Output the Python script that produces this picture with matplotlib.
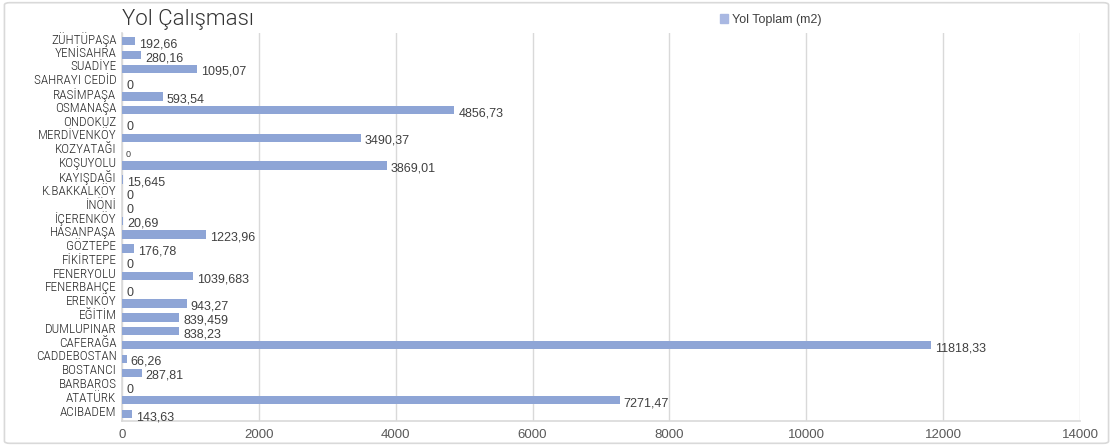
import matplotlib.pyplot as plt
from matplotlib.patches import FancyBboxPatch
import numpy as np

# Mahalle bazinda yol calismasi (ustten alta)
mahalleler = ['ZÜHTÜPAŞA', 'YENİSAHRA', 'SUADİYE', 'SAHRAYI CEDİD', 'RASİMPAŞA',
              'OSMANAŞA', 'ONDOKUZ', 'MERDİVENKÖY', 'KOZYATAĞI', 'KOŞUYOLU',
              'KAYIŞDAĞI', 'K.BAKKALKÖY', 'İNÖNİ', 'İÇERENKÖY', 'HASANPAŞA',
              'GÖZTEPE', 'FİKİRTEPE', 'FENERYOLU', 'FENERBAHÇE', 'ERENKÖY',
              'EĞİTİM', 'DUMLUPINAR', 'CAFERAĞA', 'CADDEBOSTAN', 'BOSTANCI',
              'BARBAROS', 'ATATÜRK', 'ACIBADEM']
yol_toplam = [192.66, 280.16, 1095.07, 0, 593.54,
              4856.73, 0, 3490.37, 0, 3869.01,
              15.645, 0, 0, 20.69, 1223.96,
              176.78, 0, 1039.683, 0, 943.27,
              839.459, 838.23, 11818.33, 66.26, 287.81,
              0, 7271.47, 143.63]
etiketler = ['192,66', '280,16', '1095,07', '0', '593,54',
             '4856,73', '0', '3490,37', '0', '3869,01',
             '15,645', '0', '0', '20,69', '1223,96',
             '176,78', '0', '1039,683', '0', '943,27',
             '839,459', '838,23', '11818,33', '66,26', '287,81',
             '0', '7271,47', '143,63']
xticks = [0, 2000, 4000, 6000, 8000, 10000, 12000, 14000]

barColor = '#8ea5d6'
gridColor = '#d9d9d9'
textColor = '#404040'

fig = plt.figure(figsize=(11.13, 4.46), dpi=100)
fig.patches.append(FancyBboxPatch((0.004, 0.006), 0.992, 0.988, boxstyle='round,pad=0,rounding_size=0.005',
                                  transform=fig.transFigure, facecolor='none',
                                  edgecolor='#d9d9d9', linewidth=1.2, zorder=-1))
ax = fig.add_axes([122/1113, 1 - 421/446, (1080 - 122)/1113, (421 - 33)/446])

y = np.arange(len(mahalleler))
ax.barh(y, yol_toplam, height=0.6, color=barColor, label='Yol Toplam (m2)', zorder=3)
ax.set_ylim(len(mahalleler) - 0.5, -0.6)
ax.set_xlim(0, 14000)

for ii, (val, lab) in enumerate(zip(yol_toplam, etiketler)):
    fs = 6.5 if mahalleler[ii] == 'KOZYATAĞI' else 9
    ax.text(val + 60, ii + 0.22, lab, va='center', ha='left', fontsize=fs,
            color=textColor, family='Liberation Sans', zorder=4)

# etiketler cubuklardan biraz yukarida duruyor
ax.set_yticks(y - 0.25)
ax.set_yticklabels(mahalleler, family=['Roboto Condensed', 'Liberation Sans'],
                   fontweight=300, fontsize=9.5, color='#262626')
ax.set_xticks(xticks)
ax.set_xticklabels([str(t) for t in xticks], family='Liberation Sans', fontsize=9.5, color='#595959')
ax.tick_params(axis='both', length=0)
ax.tick_params(axis='y', pad=4)
ax.tick_params(axis='x', pad=6)

ax.grid(axis='x', color=gridColor, linewidth=1, zorder=0)
for s in ['top', 'right']:
    ax.spines[s].set_visible(False)
ax.spines['left'].set_color(gridColor)
ax.spines['bottom'].set_color(gridColor)
ax.spines['left'].set_linewidth(1.2)
ax.spines['bottom'].set_linewidth(1.2)

fig.text(122/1113, 1 - 20/446, 'Yol Çalışması', fontsize=16, fontweight=300, color='#333333',
         family=['Roboto', 'Liberation Sans'], va='center', ha='left')
leg = ax.legend(loc='center', bbox_to_anchor=(0.677, 1 + 13/388), ncol=1, frameon=False,
                prop={'family': 'Liberation Sans', 'size': 9}, handlelength=0.7,
                handleheight=0.7, handletextpad=0.3, borderaxespad=0)
for t in leg.get_texts():
    t.set_color(textColor)
leg.legend_handles[0].set_color('#a9b8e2')

fig.savefig('out.png', dpi=100)
